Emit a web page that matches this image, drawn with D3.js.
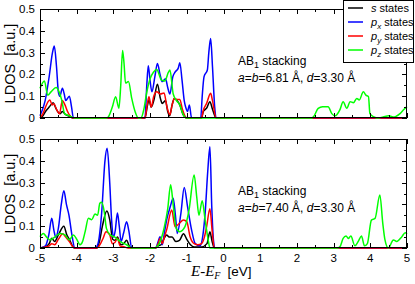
<!DOCTYPE html>
<html>
<head>
<meta charset="utf-8">
<script src="https://cdn.jsdelivr.net/npm/d3@7"></script>
<style>
body { margin: 0; background: #fff; }
svg { display: block; font-family: "Liberation Sans", Arial, sans-serif; }
</style>
</head>
<body>
<div id="chart"></div>
<script>
const width = 415, height = 284;

// tick labels
const xTicks = [-5, -4, -3, -2, -1, 0, 1, 2, 3, 4, 5];
const yTicks = [0, 0.1, 0.2, 0.3, 0.4, 0.5];

// legend entries
const seriesNames = ["s", "p_x", "p_y", "p_z"];
const seriesColors = ["#000000", "#0000ff", "#ff0000", "#00ff00"];

// top panel: a=b=6.81 A  -- [E - E_F, LDOS]
const top_s = [[-5,0],[-4.92,0.01],[-4.85,0.03],[-4.75,0.05],[-4.64,0.07],[-4.57,0.045],[-4.5,0.025],[-4.45,0.02],[-4.39,0.03],[-4.3,0.015],[-4.2,0.008],[-4.1,0],
  [-2.2,0],[-2.14,0],[-2.08,0.05],[-2.03,0.083],[-1.97,0.05],[-1.9,0.08],[-1.8,0.155],[-1.72,0.09],[-1.67,0.067],[-1.58,0.08],[-1.52,0.03],[-1.47,0.01],[-1.4,0.06],[-1.34,0.09],[-1.27,0.08],[-1.19,0.06],[-1.1,0.015],[-1.0,0],
  [-0.6,0],[-0.55,0.03],[-0.46,0.045],[-0.37,0.075],[-0.3,0.04],[-0.2,0],[5,0]];
const top_px = [[-5,0.01],[-4.93,0.04],[-4.86,0.08],[-4.75,0.19],[-4.66,0.3],[-4.61,0.33],[-4.55,0.235],[-4.5,0.12],[-4.46,0.1],[-4.39,0.136],[-4.34,0.11],[-4.3,0.08],[-4.2,0.1],[-4.14,0.05],[-4.09,0],
  [-2.2,0],[-2.14,0],[-2.09,0.15],[-2.05,0.24],[-2.0,0.17],[-1.95,0.12],[-1.87,0.19],[-1.8,0.25],[-1.73,0.2],[-1.67,0.167],[-1.58,0.18],[-1.52,0.14],[-1.46,0.11],[-1.38,0.19],[-1.32,0.21],[-1.23,0.23],[-1.19,0.254],[-1.13,0.174],[-1.07,0.08],[-1.03,0.05],[-0.98,0.03],[-0.93,0.06],[-0.87,0],
  [-0.62,0],[-0.58,0.1],[-0.53,0.19],[-0.44,0.22],[-0.4,0.3],[-0.35,0.365],[-0.3,0.235],[-0.24,0.05],[-0.19,0],[5,0]];
const top_py = [[-5,0],[-4.92,0.02],[-4.85,0.05],[-4.78,0.075],[-4.73,0.083],[-4.67,0.06],[-4.62,0.065],[-4.55,0.04],[-4.47,0.02],[-4.39,0.08],[-4.32,0.06],[-4.25,0.03],[-4.18,0.01],[-4.1,0],
  [-2.2,0],[-2.14,0],[-2.08,0.06],[-2.03,0.098],[-1.97,0.05],[-1.9,0.1],[-1.82,0.12],[-1.72,0.11],[-1.62,0.115],[-1.54,0.05],[-1.46,0.015],[-1.4,0.06],[-1.34,0.09],[-1.27,0.085],[-1.19,0.085],[-1.12,0.04],[-1.0,0],
  [-0.6,0],[-0.55,0.035],[-0.46,0.067],[-0.35,0.113],[-0.3,0.08],[-0.2,0],[5,0]];
const top_pz = [[-5,0.136],[-4.88,0.17],[-4.79,0.105],[-4.7,0.12],[-4.56,0.14],[-4.48,0.12],[-4.41,0.083],[-4.33,0.02],[-4.2,0.01],[-4.05,0],
  [-3.2,0],[-3.14,0.005],[-3.03,0.05],[-2.94,0.098],[-2.85,0.045],[-2.8,0.15],[-2.75,0.31],[-2.71,0.25],[-2.67,0.16],[-2.59,0.167],[-2.5,0.09],[-2.41,0.03],[-2.32,0],
  [-2.25,0],[-2.17,0.04],[-2.1,0.11],[-2.0,0.18],[-1.91,0.21],[-1.82,0.223],[-1.69,0.174],[-1.6,0.17],[-1.5,0.21],[-1.46,0.22],[-1.37,0.11],[-1.28,0.08],[-1.19,0.06],[-1.11,0.02],[-1.0,0],
  [2.4,0],[2.45,0.005],[2.58,0.044],[2.7,0.052],[2.85,0.052],[2.95,0.02],[3.04,0.01],[3.17,0.037],[3.26,0.075],[3.36,0.045],[3.45,0.075],[3.54,0.07],[3.63,0.09],[3.7,0.083],[3.81,0.12],[3.88,0.105],[3.95,0.098],[3.99,0.02],[4.1,0.005],[4.2,0],[4.35,0.005],[4.5,0.01],[4.65,0.005],[4.81,0.02],[4.92,0.04],[5,0.052]];

// bottom panel: a=b=7.40 A
const bot_s = [[-5,0],[-4.85,0.005],[-4.75,0.02],[-4.68,0.045],[-4.6,0.03],[-4.5,0.06],[-4.35,0.1],[-4.27,0.06],[-4.2,0.04],[-4.1,0.005],[-4.05,0],
  [-3.45,0],[-3.38,0.03],[-3.3,0.1],[-3.18,0.17],[-3.1,0.13],[-3.02,0.04],[-2.95,0.035],[-2.89,0.05],[-2.8,0.015],[-2.72,0.02],[-2.64,0.035],[-2.57,0.01],[-2.5,0],
  [-1.85,0],[-1.78,0.01],[-1.7,0.015],[-1.63,0.04],[-1.55,0.06],[-1.48,0.05],[-1.4,0.05],[-1.3,0.03],[-1.2,0.035],[-1.09,0.065],[-1.0,0.04],[-0.9,0.015],[-0.8,0.005],[-0.6,0.005],[-0.45,0.02],[-0.37,0.075],[-0.31,0.03],[-0.25,0],[5,0]];
const bot_px = [[-5,0],[-4.85,0.01],[-4.76,0.06],[-4.68,0.136],[-4.62,0.08],[-4.57,0.05],[-4.5,0.09],[-4.42,0.2],[-4.35,0.263],[-4.28,0.2],[-4.21,0.15],[-4.13,0.06],[-4.05,0],
  [-3.5,0],[-3.42,0.02],[-3.32,0.16],[-3.23,0.4],[-3.17,0.457],[-3.1,0.3],[-3.05,0.13],[-3.0,0.05],[-2.95,0.08],[-2.89,0.16],[-2.84,0.1],[-2.79,0.03],[-2.72,0.07],[-2.64,0.12],[-2.58,0.08],[-2.5,0],
  [-1.85,0],[-1.78,0.03],[-1.73,0.052],[-1.67,0.015],[-1.61,0.07],[-1.55,0.128],[-1.45,0.19],[-1.37,0.228],[-1.31,0.15],[-1.26,0.067],[-1.16,0.16],[-1.07,0.278],[-0.98,0.19],[-0.87,0.083],[-0.77,0.02],[-0.64,0.01],[-0.56,0.06],[-0.5,0.16],[-0.43,0.35],[-0.37,0.465],[-0.32,0.19],[-0.27,0.03],[-0.23,0],[5,0]];
const bot_py = [[-5,0],[-4.85,0.005],[-4.75,0.01],[-4.68,0.02],[-4.6,0.015],[-4.5,0.04],[-4.38,0.065],[-4.3,0.05],[-4.2,0.03],[-4.1,0.005],[-4.05,0],
  [-3.45,0],[-3.35,0.02],[-3.28,0.045],[-3.2,0.075],[-3.1,0.06],[-3.03,0.02],[-2.96,0.025],[-2.89,0.045],[-2.82,0.01],[-2.7,0.005],[-2.6,0],
  [-1.85,0],[-1.78,0.02],[-1.73,0.045],[-1.67,0.02],[-1.61,0.05],[-1.55,0.083],[-1.41,0.174],[-1.32,0.098],[-1.22,0.11],[-1.09,0.128],[-1.0,0.12],[-0.91,0.052],[-0.8,0.02],[-0.7,0.015],[-0.6,0.02],[-0.52,0.05],[-0.46,0.098],[-0.37,0.18],[-0.31,0.08],[-0.25,0],[5,0]];
const bot_pz = [[-5,0.052],[-4.91,0.067],[-4.82,0.05],[-4.73,0.037],[-4.6,0.05],[-4.45,0.067],[-4.32,0.06],[-4.2,0.037],[-4.09,0.06],[-4.0,0.04],[-3.91,0.015],[-3.84,0.03],[-3.77,0.075],[-3.68,0.136],[-3.59,0.13],[-3.5,0.156],[-3.43,0.15],[-3.37,0.205],[-3.32,0.21],[-3.25,0.167],[-3.19,0.09],[-3.09,0.06],[-2.96,0.05],[-2.82,0.03],[-2.64,0.015],[-2.5,0],
  [-1.9,0],[-1.82,0.005],[-1.68,0.052],[-1.61,0.098],[-1.52,0.18],[-1.44,0.29],[-1.37,0.197],[-1.29,0.09],[-1.19,0.075],[-1.05,0.098],[-0.94,0.174],[-0.8,0.335],[-0.73,0.235],[-0.67,0.15],[-0.58,0.217],[-0.5,0.128],[-0.42,0.04],[-0.37,0],
  [3.1,0],[3.17,0.005],[3.26,0.044],[3.34,0.055],[3.4,0.044],[3.47,0.055],[3.58,0.01],[3.67,0.03],[3.76,0.055],[3.84,0.01],[3.92,0.02],[4.03,0.128],[4.13,0.136],[4.26,0.243],[4.34,0.113],[4.4,0.037],[4.49,0],[4.63,0.037],[4.72,0.03],[4.86,0.052],[4.95,0.07],[5,0.065]];

const panels = [
  { top: 9, bottom: 118, series: [top_s, top_px, top_py, top_pz], lattice: "6.81", xLabels: false },
  { top: 139, bottom: 248, series: [bot_s, bot_px, bot_py, bot_pz], lattice: "7.40", xLabels: true }
];

const left = 40, right = 407;

let svg = d3.select("#chart")
  .append("svg")
  .attr("width", width)
  .attr("height", height);

let x = d3.scaleLinear().domain([-5, 5]).range([left, right]);

panels.forEach(function(p) {
  let y = d3.scaleLinear().domain([0, 0.5]).range([p.bottom, p.top]);
  let g = svg.append("g");

  let line = d3.line()
    .x(d => x(d[0]))
    .y(d => y(d[1]))
    .curve(d3.curveMonotoneX);

  p.series.forEach(function(s, i) {
    g.append("path")
      .attr("d", line(s))
      .attr("fill", "none")
      .attr("stroke", seriesColors[i])
      .attr("stroke-width", 1.5)
      .attr("stroke-linejoin", "round");
  });

  // frame
  g.append("rect")
    .attr("x", left + 0.5).attr("y", p.top + 0.5)
    .attr("width", right - left - 1).attr("height", p.bottom - p.top - 1)
    .attr("fill", "none").attr("stroke", "#000").attr("stroke-width", 1);

  // ticks (inside), major + minor
  let ticks = g.append("g").attr("stroke", "#000").attr("stroke-width", 1);
  d3.range(-5, 5.01, 0.5).forEach(function(v) {
    let major = Math.abs(v - Math.round(v)) < 1e-6;
    let len = major ? 5 : 3;
    let xp = Math.round(x(v)) + 0.5;
    ticks.append("line").attr("x1", xp).attr("x2", xp).attr("y1", p.bottom).attr("y2", p.bottom - len);
    ticks.append("line").attr("x1", xp).attr("x2", xp).attr("y1", p.top).attr("y2", p.top + len);
  });
  d3.range(0, 0.501, 0.05).forEach(function(v) {
    let major = Math.round(v * 100) % 10 === 0;
    let len = major ? 5 : 3;
    let yp = Math.round(y(v)) + 0.5;
    ticks.append("line").attr("x1", left).attr("x2", left + len).attr("y1", yp).attr("y2", yp);
    ticks.append("line").attr("x1", right).attr("x2", right - len).attr("y1", yp).attr("y2", yp);
  });

  // y tick labels
  g.selectAll(".ylab").data(yTicks).enter()
    .append("text")
    .attr("x", left - 5)
    .attr("y", d => y(d) + 4)
    .style("text-anchor", "end")
    .style("font-size", "11.5px")
    .text(d => d === 0 ? "0" : d.toFixed(1));

  if (p.xLabels) {
    g.selectAll(".xlab").data(xTicks).enter()
      .append("text")
      .attr("x", d => x(d))
      .attr("y", p.bottom + 14)
      .style("text-anchor", "middle")
      .style("font-size", "11.5px")
      .text(d => d);
  }

  // y axis title
  g.append("text")
    .attr("transform", `translate(15, ${(p.top + p.bottom) / 2}) rotate(-90)`)
    .style("text-anchor", "middle")
    .style("font-size", "14.5px")
    .attr("xml:space", "preserve")
    .text("LDOS  [a.u.]");

  // annotation
  let ann = g.append("text")
    .attr("x", 238).attr("y", p.top + 56)
    .style("font-size", "12px");
  ann.append("tspan").text("AB");
  ann.append("tspan").attr("dy", 3).style("font-size", "9px").text("1");
  ann.append("tspan").attr("dy", -3).text(" stacking");

  let ann2 = g.append("text")
    .attr("x", 238).attr("y", p.top + 73)
    .style("font-size", "12px");
  ann2.append("tspan").style("font-style", "italic").text("a");
  ann2.append("tspan").text("=");
  ann2.append("tspan").style("font-style", "italic").text("b");
  ann2.append("tspan").text(`=${p.lattice} Å, `);
  ann2.append("tspan").style("font-style", "italic").text("d");
  ann2.append("tspan").text("=3.30 Å");
});

// x axis title
let xt = svg.append("text")
  .attr("x", 191).attr("y", 276)
  .style("font-size", "15px");
xt.append("tspan").style("font-family", "'Liberation Serif', serif").style("font-style", "italic").text("E");
xt.append("tspan").style("font-family", "'Liberation Serif', serif").text("-");
xt.append("tspan").style("font-family", "'Liberation Serif', serif").style("font-style", "italic").text("E");
xt.append("tspan").attr("dy", 3).style("font-family", "'Liberation Serif', serif").style("font-style", "italic").style("font-size", "10px").text("F");
xt.append("tspan").attr("dy", -3).attr("dx", 7).style("font-size", "13.5px").text("[eV]");

// legend
let legend = svg.append("g");
legend.append("rect")
  .attr("x", 343.5).attr("y", 0.5)
  .attr("width", 70).attr("height", 62)
  .attr("fill", "#fff").attr("stroke", "#000");

seriesNames.forEach(function(name, i) {
  let cy = 8 + i * 14;
  legend.append("line")
    .attr("x1", 348).attr("x2", 363)
    .attr("y1", cy).attr("y2", cy)
    .attr("stroke", seriesColors[i]).attr("stroke-width", 1.5);
  let t = legend.append("text")
    .attr("x", 371).attr("y", cy + 3.5)
    .style("font-size", "11px");
  let parts = name.split("_");
  t.append("tspan").style("font-style", "italic").text(parts[0]);
  if (parts[1]) {
    t.append("tspan").attr("dy", 3).style("font-style", "italic").style("font-size", "8px").text(parts[1]);
    t.append("tspan").attr("dy", -3).text(" states");
  } else {
    t.append("tspan").text(" states");
  }
});
</script>
</body>
</html>
